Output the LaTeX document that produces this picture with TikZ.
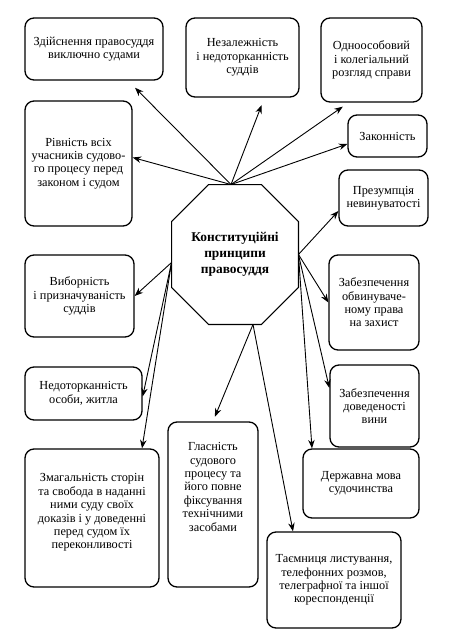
\documentclass[tikz,border=0pt]{standalone}
\usepackage{fontspec}
\setmainfont{Liberation Serif}
\usetikzlibrary{
    arrows.meta
}
\tikzset{
    every picture/.style = {
        > = {Stealth[length = 8.5pt, width = 6.5pt]},
        line width = 0.9pt
    },
    principle/.style = {
        draw,
        line width = 1.3pt,
        rounded corners = 9pt,
        inner sep = 2pt,
        align = center,
        font = \fontsize{12.3}{13.4}\selectfont
    },
    hub/.style = {
        inner sep = 0pt,
        align = center,
        font = \fontsize{13.4}{16}\selectfont\bfseries
    },
    boxsize/.style 2 args = {
        minimum width = #1,
        minimum height = #2
    }
}
% octagon round a node, #1 = node, #2 = chamfer
\newcommand{\octagonaround}[2]{%
    \draw[line width = 1.1pt] ([xshift = #2]#1.north west) -- ([xshift = -#2]#1.north east)
        -- ([yshift = -#2]#1.north east) -- ([yshift = #2]#1.south east)
        -- ([xshift = -#2]#1.south east) -- ([xshift = #2]#1.south west)
        -- ([yshift = #2]#1.south west) -- ([yshift = -#2]#1.north west) -- cycle;}

\begin{document}
\begin{tikzpicture}[x = 1pt, y = -1pt]
    \useasboundingbox (0, 0) rectangle (451, 642);
    \node[hub, boxsize = {126pt}{139pt}] (core) at (235, 254.5) {Конституційні\\принципи\\правосуддя};
    \octagonaround{core}{37pt}
    \node[principle, boxsize = {138pt}{62pt}] (sud) at (94, 49) {Здійснення правосуддя\\виключно судами};
    \node[principle, boxsize = {113pt}{79pt}] (nez) at (242.5, 57.5) {Незалежність\\і недоторканність\\суддів};
    \node[principle, boxsize = {101pt}{84pt}] (odno) at (371.5, 60) {Одноособовий\\і колегіальний\\розгляд справи};
    \node[principle, boxsize = {107pt}{125pt}] (rivn) at (78.5, 163.5) {Рівність всіх\\учасників судово-\\го процесу перед\\законом і судом};
    \node[principle, boxsize = {79pt}{42pt}] (zak) at (387.5, 136) {Законність};
    \node[principle, boxsize = {89pt}{56pt}] (prez) at (383.5, 198) {Презумпція\\невинуватості};
    \node[principle, boxsize = {109pt}{82pt}] (vyb) at (79.5, 296) {Виборність\\і призначуваність\\суддів};
    \node[principle, boxsize = {90pt}{95pt}] (obv) at (374, 302.5) {Забезпечення\\обвинуваче-\\ному права\\на захист};
    \node[principle, boxsize = {117pt}{53pt}] (nedot) at (83.5, 393.5) {Недоторканність\\особи, житла};
    \node[principle, boxsize = {89pt}{82pt}] (dov) at (374.5, 406) {Забезпечення\\доведеності\\вини};
    \node[principle, boxsize = {134pt}{138pt}] (zmah) at (92, 518) {Змагальність сторін\\та свобода в наданні\\ними суду своїх\\доказів і у доведенні\\перед судом їх\\переконливості\\[0pt]\mbox{}};
    \node[principle, boxsize = {90pt}{165pt}] (hlas) at (213, 504.5) {Гласність\\судового\\процесу та\\його повне\\фіксування\\технічними\\засобами\\[22pt]\mbox{}};
    \node[principle, boxsize = {116pt}{69pt}] (derzh) at (361, 483.5) {Державна мова\\судочинства};
    \node[principle, boxsize = {134pt}{96pt}] (taem) at (334, 580) {Таємниця листування,\\телефонних розмов,\\телеграфної та іншої\\кореспонденції};

    \path[->] ([xshift = -4pt]core.north) edge[shorten > = 10pt] ([xshift = 34pt]sud.south)
                                          edge[shorten > = 8pt] ([xshift = 22pt]nez.south)
                                          edge[shorten > = 7pt] ([xshift = -23pt]odno.south)
                                          edge ([yshift = 6pt]rivn.east)
                                          edge ([yshift = -8pt]zak.west);
    \path[->] (core.east) edge ([yshift = -13pt]prez.west)
                          edge (obv.west)
                          edge ([yshift = 18pt]dov.west)
                          edge ([xshift = -49pt]derzh.north);
    \path[->] ([yshift = -8pt]core.west) edge (vyb.east)
                                         edge ([yshift = -3pt]nedot.east)
                                         edge ([xshift = 50pt]zmah.north);
    \path[->] ([xshift = 18pt]core.south) edge[shorten > = 5pt] (hlas.north)
                                          edge ([xshift = -41pt]taem.north);
\end{tikzpicture}
\end{document}
